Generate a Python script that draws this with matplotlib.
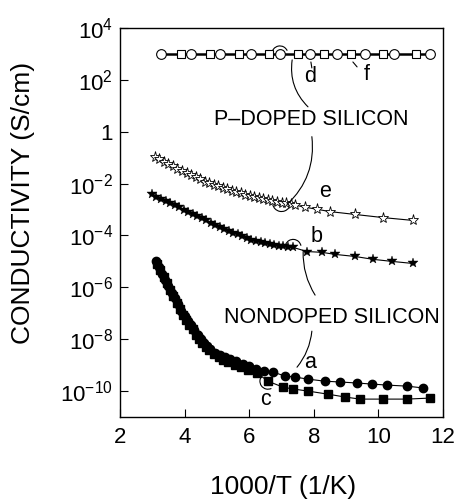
import numpy as np
import matplotlib
matplotlib.use('Agg')
import matplotlib.pyplot as plt
from matplotlib.patches import Arc

plt.rcParams['font.family'] = 'Liberation Sans'
plt.rcParams['mathtext.default'] = 'regular'

# d (open circles) and f (open squares): P-doped silicon, ~1e3 S/cm
d_x = [3.27, 4.20, 5.10, 6.06, 6.95, 7.88, 8.72, 9.59, 10.48, 11.60]
d_y = [1e3] * len(d_x)
f_x = [3.89, 4.79, 5.68, 6.61, 7.51, 8.32, 9.15, 10.14, 11.16]
f_y = [1e3] * len(f_x)

# e (open stars)
e_x = [3.08, 3.22, 3.36, 3.5, 3.64, 3.78, 3.92, 4.06, 4.2, 4.34, 4.48, 4.62, 4.76, 4.9,
       5.04, 5.18, 5.32, 5.46, 5.6, 5.74, 5.88, 6.02, 6.16, 6.3, 6.44, 6.58, 6.72, 6.86,
       7.0, 7.14, 7.28, 7.42, 7.73, 8.10, 8.50, 9.28, 10.14, 11.07]
e_log = [-0.96, -1.06, -1.15, -1.24, -1.33, -1.42, -1.5, -1.59, -1.67, -1.75, -1.84, -1.92,
         -1.99, -2.05, -2.1, -2.16, -2.22, -2.27, -2.33, -2.38, -2.43, -2.48, -2.52, -2.56,
         -2.6, -2.63, -2.67, -2.7, -2.73, -2.76, -2.79, -2.83, -2.91, -2.99, -3.08, -3.19,
         -3.31, -3.42]

# b (filled stars)
b_x = [2.99, 3.13, 3.27, 3.41, 3.55, 3.69, 3.83, 3.97, 4.11, 4.25, 4.39, 4.53, 4.67, 4.81,
       4.95, 5.09, 5.23, 5.37, 5.51, 5.65, 5.79, 5.93, 6.07, 6.21, 6.35, 6.49, 6.63, 6.77,
       6.91, 7.05, 7.2, 7.36, 7.79, 8.25, 8.66, 9.28, 9.83, 10.42, 11.07]
b_log = [-2.42, -2.5, -2.58, -2.67, -2.75, -2.83, -2.91, -3.0, -3.08, -3.17, -3.25, -3.34,
         -3.42, -3.51, -3.6, -3.68, -3.75, -3.82, -3.89, -3.96, -4.03, -4.1, -4.16, -4.21,
         -4.26, -4.3, -4.34, -4.37, -4.4, -4.42, -4.44, -4.46, -4.62, -4.65, -4.73, -4.81,
         -4.92, -5.0, -5.08]

# a (filled circles): nondoped
a_x = [3.11, 3.2, 3.3, 3.4, 3.5, 3.6, 3.7, 3.8, 3.9, 4.0, 4.1, 4.2, 4.3, 4.4, 4.5, 4.6,
       4.7, 4.8, 4.95, 5.1, 5.25, 5.4, 5.6, 5.8, 6.0, 6.2, 6.45, 6.74, 7.11, 7.42, 7.82,
       8.35, 8.81, 9.34, 9.80, 10.27, 10.89, 11.38]
a_log = [-5.0, -5.22, -5.47, -5.7, -5.95, -6.2, -6.42, -6.65, -6.9, -7.1, -7.3, -7.45,
         -7.65, -7.85, -8.0, -8.15, -8.28, -8.38, -8.52, -8.62, -8.7, -8.77, -8.85, -8.95,
         -9.04, -9.14, -9.24, -9.27, -9.42, -9.46, -9.54, -9.62, -9.65, -9.69, -9.73,
         -9.77, -9.81, -9.88]

# c (filled squares): nondoped
c_x = [3.15, 3.25, 3.35, 3.45, 3.55, 3.65, 3.75, 3.85, 3.95, 4.05, 4.15, 4.25, 4.35, 4.45,
       4.55, 4.65, 4.75, 4.9, 5.05, 5.2, 5.35, 5.55, 5.75, 5.95, 6.24, 6.58, 7.05, 7.36,
       7.82, 8.44, 8.97, 9.43, 10.14, 10.89, 11.6]
c_log = [-5.1, -5.35, -5.6, -5.85, -6.1, -6.35, -6.6, -6.82, -7.05, -7.25, -7.45, -7.62,
         -7.82, -8.0, -8.15, -8.3, -8.42, -8.58, -8.7, -8.8, -8.88, -8.98, -9.08, -9.18,
         -9.3, -9.62, -9.85, -9.92, -10.0, -10.12, -10.23, -10.31, -10.31, -10.31, -10.27]

ytick_vals = [1e4, 1e2, 1, 1e-2, 1e-4, 1e-6, 1e-8, 1e-10]
ytick_labels = ['$10^4$', '$10^2$', '1', '$10^{-2}$', '$10^{-4}$', '$10^{-6}$',
                '$10^{-8}$', '$10^{-10}$']
xtick_vals = [2, 4, 6, 8, 10, 12]

e_y = 10 ** np.array(e_log)
b_y = 10 ** np.array(b_log)
a_y = 10 ** np.array(a_log)
c_y = 10 ** np.array(c_log)

W, H = 456, 503
fig = plt.figure(figsize=(W / 100, H / 100), dpi=100)
ax = fig.add_axes([120 / W, 1 - 417 / H, 323 / W, 389 / H])
ax.set_yscale('log')
ax.set_xlim(2, 12)
ax.set_ylim(1e-11, 1e4)

ax.plot(d_x, d_y, '-', color='black', lw=1.8, zorder=2)
ax.plot(d_x, d_y, 'o', ms=7, mfc='white', mec='black', mew=0.8, zorder=3)
ax.plot(f_x, f_y, 's', ms=6.3, mfc='white', mec='black', mew=0.8, zorder=3)
ax.plot(e_x, e_y, '-*', color='black', ms=8, mfc='white', mec='black', mew=0.6, lw=0.8)
ax.plot(b_x, b_y, '-*', color='black', ms=7, mew=0.3, lw=0.8)
ax.plot(c_x, c_y, '-s', color='black', ms=5.5, lw=0.8)
ax.plot(a_x, a_y, '-o', color='black', ms=6, lw=0.8)

ax.set_yticks(ytick_vals)
ax.set_yticklabels(ytick_labels)
ax.set_xticks(xtick_vals)
ax.minorticks_off()
ax.tick_params(direction='in', length=6, width=0.8, labelsize=16)
ax.tick_params(axis='x', pad=7)
ax.tick_params(axis='y', pad=5)
for s in ax.spines.values():
    s.set_linewidth(1.0)

fig.text(23 / W, 1 - 203 / H, 'CONDUCTIVITY (S/cm)', rotation=90, ha='center',
         va='center', fontsize=19)
fig.text(283 / W, 1 - 487 / H, '1000/T (1/K)', ha='center', va='center', fontsize=19)


def cap(xd, yd, r, t1, t2):
    xa = (xd - 2) / 10
    ya = (np.log10(yd) + 11) / 15
    ax.add_patch(Arc((xa, ya), 2 * r / 323, 2 * r / 389, theta1=t1, theta2=t2,
                     transform=ax.transAxes, lw=0.8, color='black'))


def lead(x0, l0, x1, l1, rad):
    ax.annotate('', xy=(x1, 10 ** l1), xytext=(x0, 10 ** l0),
                arrowprops=dict(arrowstyle='-', lw=0.8, color='black',
                                connectionstyle='arc3,rad=%s' % rad,
                                shrinkA=0, shrinkB=0))


tkw = dict(ha='center', va='center', fontsize=15.5)
ax.text(7.88, 10 ** 2.12, 'd', **tkw)
ax.text(9.65, 10 ** 2.19, 'f', **tkw)
ax.text(7.91, 10 ** 0.46, 'P\u2013DOPED SILICON', **tkw)
ax.text(8.35, 10 ** -2.31, 'e', **tkw)
ax.text(8.10, 10 ** -4.04, 'b', **tkw)
ax.text(8.56, 10 ** -7.15, 'NONDOPED SILICON', **tkw)
ax.text(7.88, 10 ** -8.88, 'a', **tkw)
ax.text(6.49, 10 ** -10.31, 'c', **tkw)

lead(7.91, 2.69, 7.94, 2.46, 0)
lead(9.21, 2.69, 9.34, 2.5, 0)
cap(d_x[4], d_y[4], 8, 20, 180)
lead(7.33, 2.77, 7.82, 0.96, 0.25)
lead(7.94, -0.19, 7.17, -2.81, -0.25)
cap(e_x[28], e_y[28], 9, 190, 330)
cap(b_x[31], b_y[31], 8, 10, 160)
lead(7.67, -4.62, 8.04, -6.3, 0.15)
lead(7.94, -7.69, 7.48, -9.08, -0.15)
cap(c_x[25], c_y[25], 8, 140, 300)

fig.savefig('out.png', dpi=100)
